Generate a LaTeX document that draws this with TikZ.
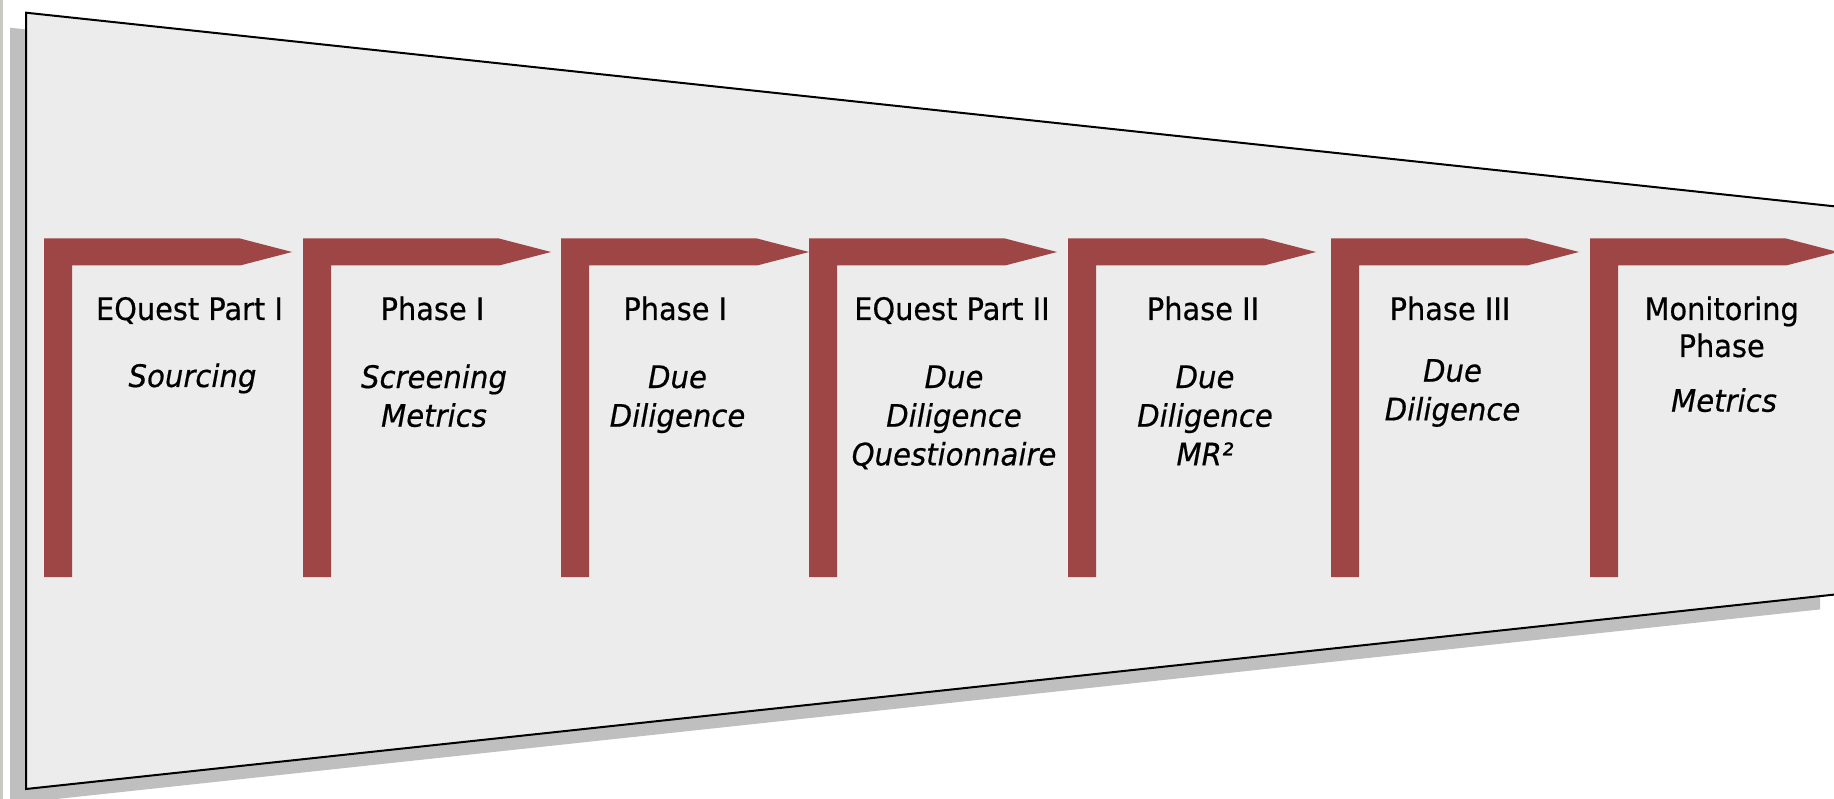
\documentclass[tikz,border=0pt]{standalone}
\usepackage{fontspec}
\newfontfamily\phasefont[FakeStretch=0.93,FakeBold=0.5]{DejaVu Sans}
\newfontfamily\stepfont[FakeStretch=0.94,FakeBold=0.5]{DejaVu Sans}
\definecolor{flagred}{RGB}{158,69,69}
\definecolor{funnelfill}{RGB}{236,236,236}
\definecolor{shadowgray}{RGB}{192,191,191}
\definecolor{edgestrip}{RGB}{200,201,192}
\tikzset{
  phasetitle/.style={font=\phasefont\fontsize{31}{37}\selectfont, anchor=base, align=center, inner sep=0pt},
  phasesub/.style={font=\stepfont\itshape\fontsize{31}{38.7}\selectfont, anchor=base, align=center, inner sep=0pt},
  flagshape/.style={fill=flagred},
}
\newcommand\flagat[1]{%
  \fill[flagshape] (#1,577) -- (#1,238.5) -- (#1+196,238.5) -- (#1+248,252)
    -- (#1+196,265.5) -- (#1+28,265.5) -- (#1+28,577) -- cycle;}
\begin{document}
\begin{tikzpicture}[x=1pt,y=-1pt]
\useasboundingbox (0,0) rectangle (1834,799);
\clip (0,0) rectangle (1834,799);
% left edge strip
\fill[edgestrip] (0,0) rectangle (2.5,799);
% shadow
\fill[shadowgray] (10,27.7) -- (1820,221) -- (1820,609.4) -- (10,804) -- cycle;
% funnel
\draw[line width=2pt, fill=funnelfill] (26,12.7) -- (1836,206.5) -- (1836,594.4) -- (26,789) -- cycle;
% flags
\flagat{44}
\flagat{303}
\flagat{561}
\flagat{809}
\flagat{1068}
\flagat{1331}
\flagat{1590}
% texts (anchor = baseline of the last line)
\node[phasetitle] (t1) at (189.5,320) {EQuest Part I};
\node[phasesub]   (s1) at (192.5,387) {Sourcing};
\node[phasetitle] (t2) at (432.5,320) {Phase I};
\node[phasesub]   (s2) at (434,426.7) {Screening\\Metrics};
\node[phasetitle] (t3) at (675.3,320) {Phase I};
\node[phasesub]   (s3) at (677.5,426.7) {Due\\Diligence};
\node[phasetitle] (t4) at (952,320) {EQuest Part II};
\node[phasesub]   (s4) at (954,465.4) {Due\\Diligence\\Questionnaire};
\node[phasetitle] (t5) at (1203,320) {Phase II};
\node[phasesub]   (s5) at (1205,465.4) {Due\\Diligence\\MR²};
\node[phasetitle] (t6) at (1450,320) {Phase III};
\node[phasesub]   (s6) at (1452.5,420.4) {Due\\Diligence};
\node[phasetitle] (t7) at (1721.7,357) {Monitoring\\Phase};
\node[phasesub]   (s7) at (1724,411.7) {Metrics};
\end{tikzpicture}
\end{document}
